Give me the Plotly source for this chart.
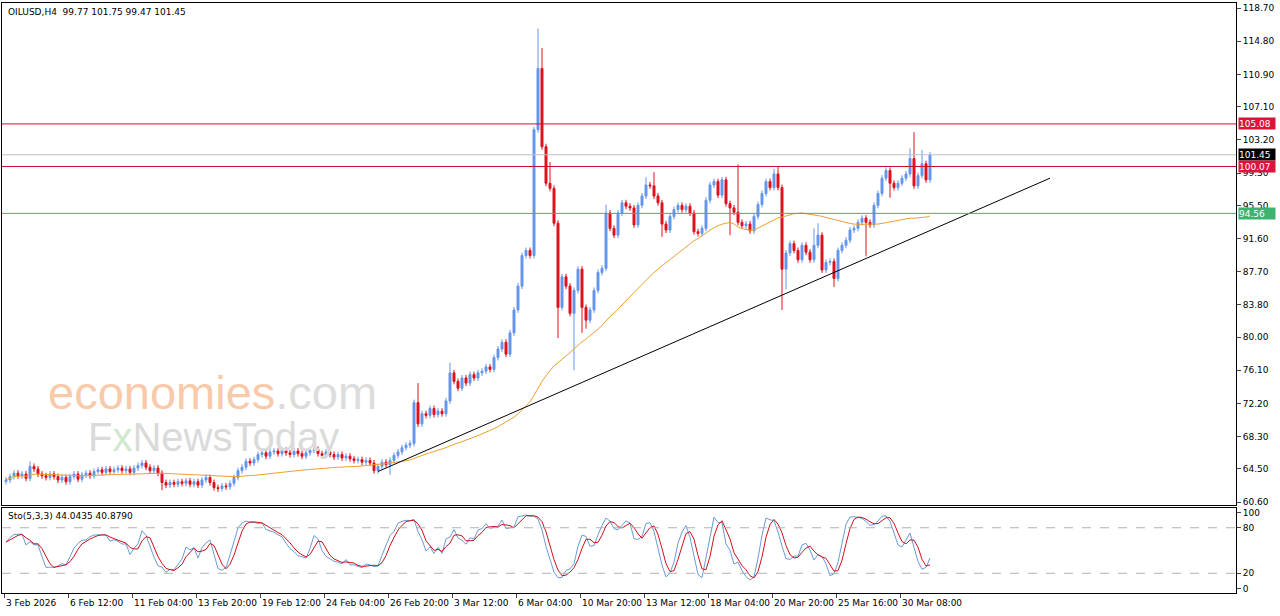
import plotly.graph_objects as go
import numpy as np

closes = [
 63.2,63.6,64.0,63.7,63.9,63.4,64.8,64.5,63.9,63.7,
 63.5,63.9,63.6,63.2,63.5,63.0,63.6,63.9,63.3,63.8,
 64.0,63.7,64.2,64.4,64.1,64.5,64.2,64.4,64.6,64.3,
 64.5,64.1,64.6,64.9,65.2,64.7,64.3,64.6,64.0,62.9,
 62.6,62.9,62.7,63.0,62.8,63.1,62.7,63.0,62.6,63.2,
 63.5,62.9,62.3,62.2,62.5,62.4,62.8,63.5,64.3,64.7,
 65.4,65.2,65.6,66.2,66.4,66.0,66.5,66.6,66.3,66.7,
 66.4,66.2,66.6,66.3,66.0,66.4,66.7,66.8,66.3,66.1,
 66.5,66.2,65.9,66.2,65.8,66.0,65.7,65.5,65.6,65.3,
 65.5,65.2,64.3,64.8,65.3,65.0,65.5,66.1,66.5,67.0,
 67.3,67.5,72.3,69.8,71.0,70.8,71.6,70.9,71.3,71.0,
 72.5,75.8,74.8,74.0,75.2,74.6,75.6,75.2,75.8,76.0,
 76.5,76.2,77.6,78.6,79.4,78.0,80.5,83.2,86.0,89.6,
 90.2,89.6,104.4,111.6,102.4,98.1,97.5,93.4,83.5,87.1,
 86.0,82.8,85.5,88.0,83.5,82.0,83.2,85.5,87.6,88.1,
 94.6,92.8,92.0,94.6,95.8,95.4,95.2,93.2,95.5,96.6,
 97.9,97.8,96.6,95.8,93.3,92.6,94.2,95.0,95.5,95.0,
 95.4,94.6,92.4,92.2,92.8,96.1,97.9,98.3,96.7,98.5,
 95.7,95.2,94.7,93.5,93.1,93.3,92.5,94.2,95.6,96.9,
 98.3,97.6,99.2,97.6,88.0,89.9,91.0,90.2,89.1,90.8,
 90.0,89.1,90.8,92.0,87.9,88.8,88.9,86.9,90.2,90.8,
 91.4,92.6,92.8,93.5,94.0,93.5,93.2,95.5,96.9,98.7,
 99.6,98.1,97.6,98.1,98.7,99.2,101.0,97.8,99.0,100.4,98.5,101.45,
]
first_open = 63.0
wick = 0.35
special_highs = {6: 65.4, 103: 74.6, 111: 77.0, 133: 116.3, 134: 114.0, 136: 100.6, 150: 95.6,
                 160: 98.8, 162: 99.4, 183: 100.3, 192: 99.8, 193: 100.0, 202: 92.8, 203: 93.4,
                 227: 104.1, 226: 102.2, 229: 102.0}
special_lows = {39: 62.0, 53: 61.8, 96: 63.8, 138: 79.9, 142: 76.1, 144: 80.5, 145: 81.0,
                164: 91.8, 181: 92.0, 194: 83.2, 195: 85.6, 207: 85.9, 215: 89.5, 221: 96.4}

hlines = [(105.08, "#c8102e"), (100.07, "#c8102e"), (101.45, "#c0c0c0"), (94.56, "#3cb371")]
price_ticks = [118.7,114.8,110.9,107.1,103.2,99.3,95.5,91.6,87.7,83.8,80.0,76.1,72.2,68.3,64.5,60.6]
date_labels = ["3 Feb 2026","6 Feb 12:00","11 Feb 04:00","13 Feb 20:00","19 Feb 12:00","24 Feb 04:00",
               "26 Feb 20:00","3 Mar 12:00","6 Mar 04:00","10 Mar 20:00","13 Mar 12:00","18 Mar 04:00",
               "20 Mar 20:00","25 Mar 16:00","30 Mar 08:00"]
trend_x = [93, 261]
trend_y = [64.2, 98.7]

n = len(closes)
x = np.arange(n)
c = np.array(closes)
o = np.concatenate([[first_open], c[:-1]])
h = np.maximum(o, c) + wick
l = np.minimum(o, c) - wick
for k, v in special_highs.items(): h[k] = v
for k, v in special_lows.items(): l[k] = v

ma = np.array([c[max(0, i-49):i+1].mean() for i in range(n)])
raw = np.array([100*(c[i]-l[max(0,i-4):i+1].min())/max(1e-9, h[max(0,i-4):i+1].max()-l[max(0,i-4):i+1].min()) for i in range(n)])
def sma(a, p): return np.array([a[max(0,i-p+1):i+1].mean() for i in range(len(a))])
k_line = sma(raw, 3); d_line = sma(k_line, 3)

fig = go.Figure()
for val, col in hlines:
    fig.add_shape(type="line", xref="paper", x0=0, x1=1, yref="y", y0=val, y1=val, line=dict(color=col, width=1))
fig.add_trace(go.Scatter(x=x, y=ma, mode="lines", line=dict(color="#f0a030", width=1), hoverinfo="skip"))
fig.add_trace(go.Candlestick(x=x, open=o, high=h, low=l, close=c,
    increasing=dict(line=dict(color="#6495ED", width=1), fillcolor="#6495ED"),
    decreasing=dict(line=dict(color="#e0101c", width=1), fillcolor="#e0101c"), whiskerwidth=0))
fig.add_trace(go.Scatter(x=trend_x, y=trend_y, mode="lines", line=dict(color="black", width=1)))
fig.add_trace(go.Scatter(x=x, y=k_line, mode="lines", line=dict(color="#6a9ad8", width=1), xaxis="x2", yaxis="y2"))
fig.add_trace(go.Scatter(x=x, y=d_line, mode="lines", line=dict(color="#d0101c", width=1), xaxis="x2", yaxis="y2"))
for v in (80, 20):
    fig.add_shape(type="line", xref="x2 domain", x0=0, x1=1, yref="y2", y0=v, y1=v, line=dict(color="#b0b0b0", width=1, dash="dash"))

ann = []
fnt = dict(family="DejaVu Sans", size=9, color="black")
ann.append(dict(xref="paper", yref="paper", x=0.003, y=0.997, xanchor="left", yanchor="top", showarrow=False,
                text="OILUSD,H4  99.77 101.75 99.47 101.45", font=fnt))
ann.append(dict(xref="paper", yref="paper", x=0.003, y=0.142, xanchor="left", yanchor="top", showarrow=False,
                text="Sto(5,3,3) 44.0435 40.8790", font=fnt))
for i, t in enumerate(date_labels):
    ann.append(dict(xref="x2", yref="paper", x=16*i-0.5, y=-0.005, xanchor="left", yanchor="top", showarrow=False, text=t, font=fnt))
for val, col, txt in [(105.08, "#dc143c", "105.08"), (101.45, "#000000", "101.45"), (100.07, "#dc143c", "100.07"), (94.56, "#3cb371", "94.56")]:
    ann.append(dict(xref="paper", yref="y", x=1.002, y=val, xanchor="left", yanchor="middle", showarrow=False,
                    text=txt, bgcolor=col, font=dict(family="DejaVu Sans", size=9, color="white"), borderpad=0, width=36, height=11, align="left"))
ann.append(dict(xref="paper", yref="paper", x=0.036, y=0.34, xanchor="left", yanchor="middle", showarrow=False,
                text="<span style='color:#f9caa9'>economies</span><span style='color:#dcdcdc'>.com</span>",
                font=dict(family="Liberation Sans", size=47)))
ann.append(dict(xref="paper", yref="paper", x=0.068, y=0.265, xanchor="left", yanchor="middle", showarrow=False,
                text="<span style='color:#dadada'>F</span><span style='color:#cfe8cf'>x</span><span style='color:#dadada'>NewsToday</span>",
                font=dict(family="Liberation Sans", size=40)))

fig.update_layout(width=1280, height=616, margin=dict(l=2, r=44, t=3, b=23), paper_bgcolor="white", plot_bgcolor="white",
    showlegend=False, annotations=ann,
    xaxis=dict(range=[-1, 307.5], showticklabels=False, showgrid=False, zeroline=False, rangeslider=dict(visible=False),
               showline=True, mirror=True, linecolor="black", anchor="y"),
    yaxis=dict(domain=[0.149, 1], range=[60.25, 119.3], side="right", tickvals=price_ticks, tickformat=".2f",
               ticks="outside", ticklen=4, showgrid=False, zeroline=False, showline=True, mirror=True, linecolor="black",
               tickfont=fnt),
    xaxis2=dict(range=[-1, 307.5], anchor="y2", tickvals=[16*i-0.5 for i in range(len(date_labels))], ticktext=[""]*len(date_labels),
                ticks="outside", ticklen=4, showgrid=False, zeroline=False, showline=True, mirror=True, linecolor="black"),
    yaxis2=dict(domain=[0, 0.144], range=[-6, 106], side="right", tickvals=[100, 80, 20, 0], ticks="outside", ticklen=4,
                showgrid=False, zeroline=False, showline=True, mirror=True, linecolor="black", tickfont=fnt, anchor="x2"))
fig.write_html("out.html", config={"displayModeBar": False},
               post_script="document.body.style.margin='0';document.body.style.overflow='hidden';")
